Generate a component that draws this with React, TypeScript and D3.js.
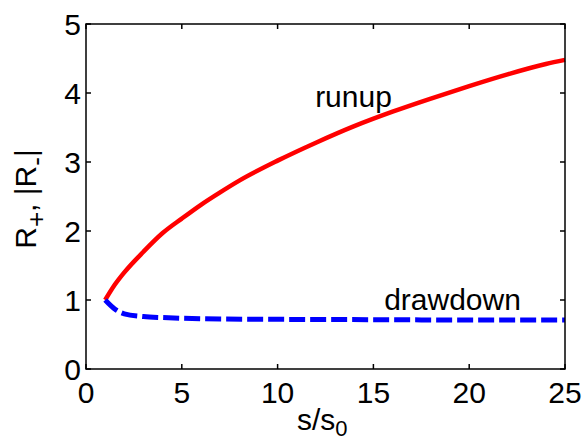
import React from "react";
import * as d3 from "d3";

const xTicks = [0, 5, 10, 15, 20, 25];
const yTicks = [0, 1, 2, 3, 4, 5];

const runupS = [1, 1.5, 2, 3, 4, 5, 6, 7, 8, 10, 12, 14, 16, 18, 20, 22, 24, 25];
const runupR = [1, 1.22, 1.4, 1.7, 1.97, 2.18, 2.38, 2.56, 2.73, 3.02, 3.28, 3.52, 3.73, 3.92, 4.1, 4.27, 4.42, 4.48];

const drawS = [1, 1.5, 2, 3, 4, 5, 7, 10, 15, 20, 25];
const drawR = [1, 0.87, 0.8, 0.76, 0.745, 0.735, 0.725, 0.72, 0.715, 0.71, 0.71];

export default function App() {
  const W = 582, H = 443;
  const left = 86, right = 565, top = 24, bottom = 369;
  const x = d3.scaleLinear().domain([0, 25]).range([left, right]);
  const y = d3.scaleLinear().domain([0, 5]).range([bottom, top]);
  const line = d3.line<[number, number]>().x(d => x(d[0])).y(d => y(d[1])).curve(d3.curveMonotoneX);
  const runup = line(runupS.map((s, i) => [s, runupR[i]]) as [number, number][]) || "";
  const draw = line(drawS.map((s, i) => [s, drawR[i]]) as [number, number][]) || "";
  const font = "Liberation Sans, Arial, sans-serif";
  const tl = 5;
  const fs = 30;
  const sub = 26;
  return (
    <svg width={W} height={H} style={{ position: "absolute", left: 0, top: 0 }} fontFamily={font}>
      <rect width={W} height={H} fill="white" />
      <path d={runup} fill="none" stroke="#ff0000" strokeWidth={4.5} strokeLinejoin="round" />
      <path d={draw} fill="none" stroke="#0000ff" strokeWidth={5} strokeDasharray="16,5" />
      <rect x={left} y={top} width={right - left} height={bottom - top} fill="none" stroke="black" strokeWidth={1.5} />
      {xTicks.map(t => (
        <g key={"x" + t}>
          <line x1={x(t)} x2={x(t)} y1={bottom} y2={bottom - tl} stroke="black" strokeWidth={1.5} />
          <line x1={x(t)} x2={x(t)} y1={top} y2={top + tl} stroke="black" strokeWidth={1.5} />
          <text x={x(t)} y={403} textAnchor="middle" fontSize={fs}>{t}</text>
        </g>
      ))}
      {yTicks.map(t => (
        <g key={"y" + t}>
          <line x1={left} x2={left + tl} y1={y(t)} y2={y(t)} stroke="black" strokeWidth={1.5} />
          <line x1={right} x2={right - tl} y1={y(t)} y2={y(t)} stroke="black" strokeWidth={1.5} />
          <text x={81} y={y(t) + 11} textAnchor="end" fontSize={fs}>{t}</text>
        </g>
      ))}
      <text x={297} y={430} fontSize={fs}>
        s/s<tspan fontSize={22} dy={6}>0</tspan>
      </text>
      <text transform="translate(36,199) rotate(-90)" textAnchor="middle" fontSize={fs}>
        R<tspan fontSize={sub} dy={9}>+</tspan><tspan dy={-9}>, |R</tspan><tspan fontSize={sub} dy={9}>-</tspan><tspan dy={-9}>|</tspan>
      </text>
      <text x={353.5} y={107} textAnchor="middle" fontSize={fs}>runup</text>
      <text x={452.5} y={310} textAnchor="middle" fontSize={fs}>drawdown</text>
    </svg>
  );
}
